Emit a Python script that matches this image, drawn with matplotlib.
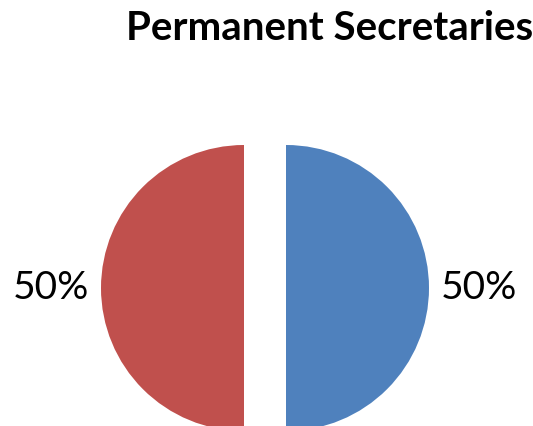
import matplotlib
matplotlib.use("Agg")
import matplotlib.pyplot as plt

labels = ["Blue", "Red"]
shares = [50, 50]
colors = ["#4F81BD", "#C0504D"]
title = "Permanent Secretaries"

fig = plt.figure(figsize=(5.33, 4.26), dpi=100)
ax = fig.add_axes([0, 0, 1, 1])

# explode is in data units here since radius != 1
wedges, texts, autotexts = ax.pie(
    shares, colors=colors, startangle=90, counterclock=False,
    center=(265, 138), radius=143, explode=[21, 21],
    autopct="%d%%", pctdistance=1.35, frame=False,
    textprops=dict(fontsize=28, family="Lato", color="black"),
)
for w in wedges:
    w.set_linewidth(0)

ax.set_xlim(0, 533)
ax.set_ylim(0, 426)
ax.set_aspect("equal")
ax.axis("off")

fig.text(330 / 533, 1 - 29 / 426, title, ha="center", va="center",
         fontsize=29, fontweight="bold", family="Lato")

fig.savefig("out.png", dpi=100)
